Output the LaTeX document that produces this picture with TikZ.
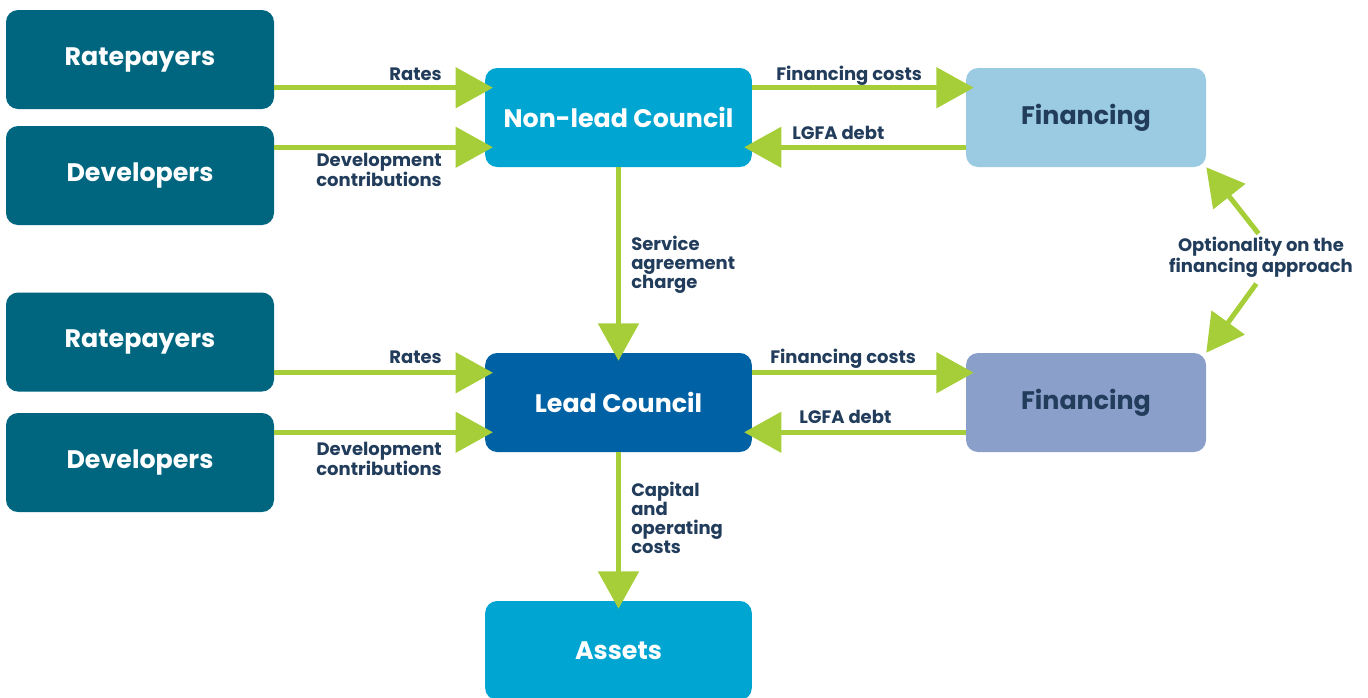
\documentclass[tikz,border=0pt]{standalone}
\usepackage{fontspec}
\setmainfont{Poppins}
\usetikzlibrary{arrows.meta}

\definecolor{rateteal}{HTML}{006680}
\definecolor{councilblue}{HTML}{00A5D2}
\definecolor{leadblue}{HTML}{0062A4}
\definecolor{finlight}{HTML}{9ACBE3}
\definecolor{finmauve}{HTML}{8A9FCA}
\definecolor{flowgreen}{HTML}{A6CE39}
\definecolor{navy}{HTML}{223C5B}

\tikzset{
  box/.style={rounded corners=9pt, minimum width=201pt, minimum height=74.25pt,
    inner sep=0pt, text=white, font=\fontsize{19}{21}\selectfont\bfseries},
  finbox/.style={box, minimum width=180pt, text=navy},
  flow/.style={draw=flowgreen, line width=3.75pt,
    -{Triangle[length=28pt,width=30pt]}, shorten >=-6pt},
  lbl/.style={inner sep=0pt, text=navy, font=\fontsize{13.5}{14.25}\selectfont\bfseries},
}

\begin{document}
\begin{tikzpicture}[x=0.75pt, y=-0.75pt]
    \useasboundingbox (0,0) rectangle (1368,697);

    % sources on the left
    \node[box, fill=rateteal] (rate1) at (140,59.5) {Ratepayers};
    \node[box, fill=rateteal] (dev1) at (140,175.5) {Developers};
    \node[box, fill=rateteal] (rate2) at (140,342) {Ratepayers};
    \node[box, fill=rateteal] (dev2) at (140,462.5) {Developers};

    % councils
    \node[box, fill=councilblue, minimum width=200pt] (nonlead) at (618.5,117.5) {Non-lead Council};
    \node[box, fill=leadblue, minimum width=200pt] (lead) at (618.5,402.5) {Lead Council};
    \node[box, fill=councilblue, minimum width=200pt] (assets) at (618.5,650.5) {Assets};

    % financing
    \node[finbox, fill=finlight] (finA) at (1086,117.5) {Financing};
    \node[finbox, fill=finmauve] (finB) at (1086,402.5) {Financing};

    % arrow end points on the council boxes
    \coordinate (inA1) at ([yshift=-15pt]nonlead.north west);
    \coordinate (inA2) at ([yshift=15pt]nonlead.south west);
    \coordinate (fcA) at ([yshift=-15pt]finA.north west);
    \coordinate (lgA) at ([yshift=15pt]finA.south west);
    \coordinate (inB1) at ([yshift=-15pt]lead.north west);
    \coordinate (inB2) at ([yshift=15pt]lead.south west);
    \coordinate (fcB) at ([yshift=-15pt]finB.north west);
    \coordinate (lgB) at ([yshift=15pt]finB.south west);

    % upper row
    \draw[flow] (rate1.east |- inA1) -- (inA1);
    \draw[flow] (dev1.east |- inA2) -- (inA2);
    \draw[flow] (nonlead.east |- fcA) -- (fcA);
    \draw[flow] (lgA) -- (nonlead.east |- lgA);
    \draw[flow] (nonlead.south) -- (lead.north);

    % lower row
    \draw[flow] (rate2.east |- inB1) -- (inB1);
    \draw[flow] (dev2.east |- inB2) -- (inB2);
    \draw[flow] (lead.east |- fcB) -- (fcB);
    \draw[flow] (lgB) -- (lead.east |- lgB);
    \draw[flow] (lead.south) -- (assets.north);

    % labels
    \node[lbl, anchor=base east] (lrate1) at (442,80) {Rates};
    \node[lbl, anchor=east, align=right] (ldev1) at (442,170) {Development\\contributions};
    \node[lbl, anchor=base west] (lfcA) at (776,80) {Financing costs};
    \node[lbl, anchor=base west] (llgA) at (792,139) {LGFA debt};
    \node[lbl, anchor=west, align=left] (lsac) at (631,265) {Service\\agreement\\charge};

    \node[lbl, anchor=base east] (lrate2) at (442,363) {Rates};
    \node[lbl, anchor=east, align=right] (ldev2) at (442,459) {Development\\contributions};
    \node[lbl, anchor=base west] (lfcB) at (770,363) {Financing costs};
    \node[lbl, anchor=base west] (llgB) at (799,423) {LGFA debt};
    \node[lbl, anchor=west, align=left] (lcap) at (631,518) {Capital\\and\\operating\\costs};

    % choice between the two financing routes
    \node[lbl, align=center] (opt) at (1261,257) {Optionality on the\\financing approach};
    \draw[flow, shorten >=0pt, shorten <=3pt] (opt.north) -- (finA.south east);
    \draw[flow, shorten >=0pt, shorten <=6pt] (opt.south) -- (finB.north east);
\end{tikzpicture}
\end{document}
